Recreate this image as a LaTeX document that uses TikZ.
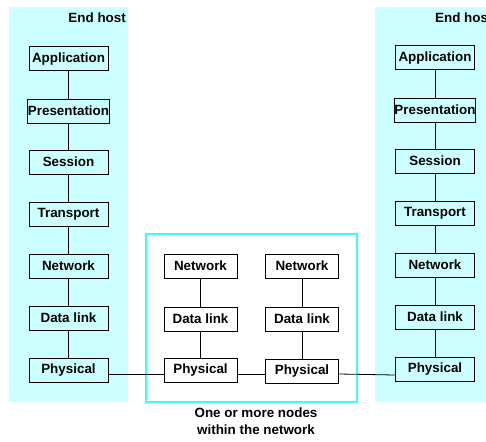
\documentclass[tikz,border=0pt]{standalone}
\usepackage{fontspec}
\setmainfont{Liberation Sans}
\usepackage{tikz}

\definecolor{hostcyan}{HTML}{CCFFFF}
\definecolor{netcyan}{HTML}{33FFFF}

\begin{document}
\begin{tikzpicture}[x=1pt, y=-1pt,
    layer/.style={draw, line width=1pt, minimum width=79pt, minimum height=24pt,
      inner sep=0pt, font=\fontsize{13.4}{15}\selectfont\bfseries},
    hop/.style={layer, minimum width=73pt},
    caption/.style={font=\fontsize{13.4}{17}\selectfont\bfseries, align=center},
    link/.style={line width=0.8pt}]
    \useasboundingbox (0,0) rectangle (486,441);

    % Backgrounds
    \fill[hostcyan] (9,7) rectangle (128,402);
    \fill[hostcyan] (375,7) rectangle (492,402);
    \draw[netcyan, line width=1.2pt] (146,234) rectangle (357,402);

    % Labels
    \node[caption, anchor=base east, inner sep=0pt] (lhost) at (126,23) {End host};
    \node[caption, anchor=base west, inner sep=0pt] (rhost) at (435,23) {End host};
    \node[caption, anchor=north, inner sep=0pt] (netlabel) at (256,408) {One or more nodes\\within the network};

    % Left end host
    \node[layer] (lapp) at (68.5,59) {Application};
    \node[layer] (lpre) at (68.5,111) {Presentation};
    \node[layer] (lses) at (68.5,162) {Session};
    \node[layer] (ltra) at (68.5,214) {Transport};
    \node[layer] (lnet) at (68.5,266) {Network};
    \node[layer] (ldat) at (68.5,318) {Data link};
    \node[layer] (lphy) at (68.5,370) {Physical};

    % Right end host
    \node[layer] (rapp) at (435,58) {Application};
    \node[layer] (rpre) at (435,110) {Presentation};
    \node[layer] (rses) at (435,161) {Session};
    \node[layer] (rtra) at (435,213) {Transport};
    \node[layer] (rnet) at (435,265) {Network};
    \node[layer] (rdat) at (435,317) {Data link};
    \node[layer] (rphy) at (435,369) {Physical};

    % Nodes within the network
    \node[hop] (anet) at (200.5,266) {Network};
    \node[hop] (adat) at (200.5,319) {Data link};
    \node[hop] (aphy) at (200.5,370) {Physical};
    \node[hop] (bnet) at (302,266) {Network};
    \node[hop] (bdat) at (302,319) {Data link};
    \node[hop] (bphy) at (302,371) {Physical};

    % Stack connectors
    \draw[link] (lapp) -- (lpre) -- (lses) -- (ltra) -- (lnet) -- (ldat) -- (lphy);
    \draw[link] (rapp) -- (rpre) -- (rses) -- (rtra) -- (rnet) -- (rdat) -- (rphy);
    \draw[link] (anet) -- (adat) -- (aphy);
    \draw[link] (bnet) -- (bdat) -- (bphy);

    % Physical links
    \draw[link] ([yshift=-4pt]lphy.east) -- ([yshift=-4pt]aphy.west);
    \draw[link] ([yshift=-4pt]aphy.east) -- ([yshift=-3pt]bphy.west);
    \draw[link] ([yshift=-3pt]bphy.east) -- ([yshift=-6pt]rphy.west);
\end{tikzpicture}
\end{document}
